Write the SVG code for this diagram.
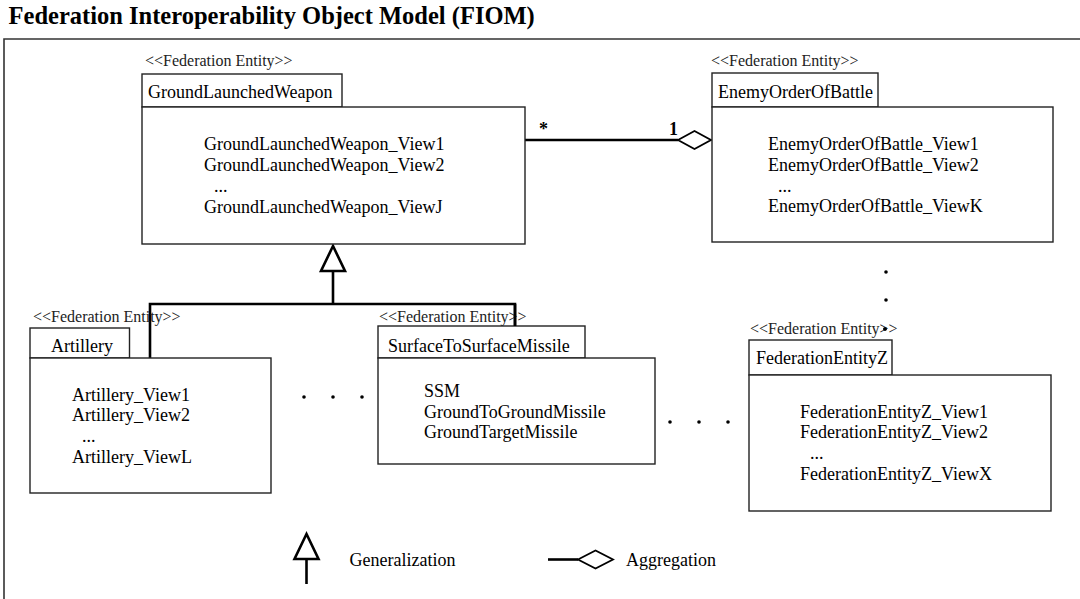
<svg xmlns="http://www.w3.org/2000/svg" width="1080" height="599" viewBox="0 0 1080 599">
<style>
text{font-family:"Liberation Serif","Times New Roman",serif;fill:#000}
.title{font-size:24.5px;font-weight:bold}
.st{font-size:16px;fill:#222}
.lb{font-size:18px}
.bd{font-size:18px}
.mul{font-size:18px;font-weight:bold}
.box{fill:#fff;stroke:#222;stroke-width:1.4}
.frame{fill:none;stroke:#333;stroke-width:1.6}
.con{fill:none;stroke:#000;stroke-width:2.6}
.tri{fill:#fff;stroke:#000;stroke-width:2.6;stroke-linejoin:miter}
.dia{fill:#fff;stroke:#000;stroke-width:1.8}
.dot{fill:#000}
</style>
<rect width="1080" height="599" fill="#fff"/>
<text class="title" x="8.6" y="24">Federation Interoperability Object Model (FIOM)</text>
<path class="frame" d="M4,599 V39 H1080"/>

<g id="connectors">
  <path class="con" d="M333,272 V304 M150,358 V304 H515 V326"/>
  <polygon class="tri" points="333,246 321,271 345,271"/>
  <path class="con" d="M525,140 H678"/>
  <polygon class="dia" points="678,140 694.5,131 711,140 694.5,149"/>
  <text class="mul" x="539" y="135">*</text>
  <text class="mul" x="669" y="135">1</text>
</g>

<g id="GroundLaunchedWeapon">
  <text class="st" x="145" y="66">&lt;&lt;Federation Entity&gt;&gt;</text>
  <rect class="box" x="142" y="74" width="200" height="33"/>
  <text class="lb" x="148" y="98">GroundLaunchedWeapon</text>
  <rect class="box" x="142" y="107" width="383" height="137"/>
  <text class="bd" x="204" y="150">GroundLaunchedWeapon_View1</text>
  <text class="bd" x="204" y="171">GroundLaunchedWeapon_View2</text>
  <text class="bd" x="214" y="192">...</text>
  <text class="bd" x="204" y="213">GroundLaunchedWeapon_ViewJ</text>
</g>

<g id="EnemyOrderOfBattle">
  <text class="st" x="711" y="66">&lt;&lt;Federation Entity&gt;&gt;</text>
  <rect class="box" x="712" y="73" width="166" height="34"/>
  <text class="lb" x="718" y="98">EnemyOrderOfBattle</text>
  <rect class="box" x="712" y="107" width="341" height="135"/>
  <text class="bd" x="768" y="150">EnemyOrderOfBattle_View1</text>
  <text class="bd" x="768" y="171">EnemyOrderOfBattle_View2</text>
  <text class="bd" x="778" y="192">...</text>
  <text class="bd" x="768" y="212">EnemyOrderOfBattle_ViewK</text>
</g>

<g id="vdots">
  <circle class="dot" cx="886" cy="272" r="1.8"/>
  <circle class="dot" cx="886" cy="300" r="1.8"/>
  <circle class="dot" cx="885" cy="329" r="1.8"/>
</g>

<g id="Artillery">
  <text class="st" x="33" y="322">&lt;&lt;Federation Entity&gt;&gt;</text>
  <rect class="box" x="30" y="328" width="99.5" height="30"/>
  <text class="lb" x="51" y="352">Artillery</text>
  <rect class="box" x="30" y="358" width="241" height="135"/>
  <text class="bd" x="72" y="401">Artillery_View1</text>
  <text class="bd" x="72" y="421">Artillery_View2</text>
  <text class="bd" x="82" y="442">...</text>
  <text class="bd" x="72" y="463">Artillery_ViewL</text>
</g>

<g id="hdots1">
  <circle class="dot" cx="304" cy="397" r="1.8"/>
  <circle class="dot" cx="333" cy="397" r="1.8"/>
  <circle class="dot" cx="362" cy="397" r="1.8"/>
</g>

<g id="SurfaceToSurfaceMissile">
  <text class="st" x="379" y="322">&lt;&lt;Federation Entity&gt;&gt;</text>
  <rect class="box" x="378" y="326" width="207" height="32"/>
  <text class="lb" x="388" y="352">SurfaceToSurfaceMissile</text>
  <rect class="box" x="378" y="358" width="277" height="106"/>
  <text class="bd" x="424" y="397">SSM</text>
  <text class="bd" x="424" y="418">GroundToGroundMissile</text>
  <text class="bd" x="424" y="438">GroundTargetMissile</text>
</g>
<path class="con" d="M515,304 V326"/>

<g id="hdots2">
  <circle class="dot" cx="670" cy="422" r="1.8"/>
  <circle class="dot" cx="699" cy="422" r="1.8"/>
  <circle class="dot" cx="728" cy="422" r="1.8"/>
</g>

<g id="FederationEntityZ">
  <text class="st" x="750" y="334">&lt;&lt;Federation Entity&gt;&gt;</text>
  <circle class="dot" cx="885" cy="329" r="1.8"/>
  <rect class="box" x="749" y="340" width="143" height="35"/>
  <text class="lb" x="756" y="364">FederationEntityZ</text>
  <rect class="box" x="749" y="375" width="302" height="136"/>
  <text class="bd" x="800" y="418">FederationEntityZ_View1</text>
  <text class="bd" x="800" y="438">FederationEntityZ_View2</text>
  <text class="bd" x="810" y="459">...</text>
  <text class="bd" x="800" y="480">FederationEntityZ_ViewX</text>
</g>

<g id="legend">
  <polygon class="tri" points="306.5,534 294.5,559 318.5,559"/>
  <path class="con" d="M306.5,559 V584"/>
  <text class="lb" x="349.5" y="566">Generalization</text>
  <path class="con" d="M548,559.5 H578"/>
  <polygon class="dia" points="578,559.5 595.5,550.5 613,559.5 595.5,568.5"/>
  <text class="lb" x="626" y="566">Aggregation</text>
</g>
</svg>
